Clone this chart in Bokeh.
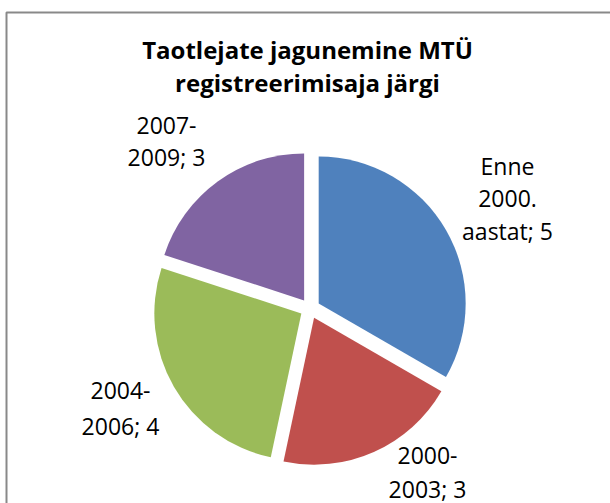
import numpy as np
from bokeh.plotting import figure
from bokeh.models import Range1d
from bokeh.core.properties import value
from bokeh.embed import file_html
from bokeh.resources import INLINE

# ---- data ----
title_lines = ["Taotlejate jagunemine MTÜ", "registreerimisaja järgi"]
categories = ["Enne 2000. aastat", "2000-2003", "2004-2006", "2007-2009"]
category_wrapped = [["Enne", "2000.", "aastat"], ["2000-", "2003"], ["2004-", "2006"], ["2007-", "2009"]]
values = [5, 3, 4, 3]
colors = ["#4F81BD", "#C0504D", "#9BBB59", "#8064A2"]

# ---- layout (page pixels) ----
W, H = 610, 503
FONT = "Open Sans"
# (x center, first line y, line gap)
label_anchor = [(507, 165, 32.5), (427, 455, 33), (120, 390, 35), (166, 125, 31)]

p = figure(width=W, height=H, x_range=Range1d(0, W), y_range=Range1d(0, H),
           output_backend="svg", toolbar_location=None, min_border=0)
p.axis.visible = False
p.grid.visible = False
p.outline_line_color = None
p.background_fill_color = "white"
p.border_fill_color = "white"


def Y(py):
    return H - py


# chart border (right/bottom edges fall outside the picture)
p.line(x=[6, 6, W + 20], y=[Y(H + 20), Y(12), Y(12)], line_color="#898989", line_width=2)

# pie
vals = np.array(values, dtype=float)
fr = vals / vals.sum()
ends = np.cumsum(fr)
starts = ends - fr
a_start = np.pi / 2 - 2 * np.pi * starts
a_end = np.pi / 2 - 2 * np.pi * ends
mid = (a_start + a_end) / 2
cx, cy = 309.5, Y(308)
R, EXPLODE = 147, 10
xs = cx + EXPLODE * np.cos(mid)
ys = cy + EXPLODE * np.sin(mid)
p.wedge(x=xs, y=ys, radius=R, start_angle=a_end, end_angle=a_start,
        direction="anticlock", fill_color=colors, line_color=None)

# data labels
for cat_lines, v, (lx, ly, gap) in zip(category_wrapped, values, label_anchor):
    lines = list(cat_lines)
    lines[-1] = f"{lines[-1]}; {v}"
    p.text(x=[lx] * len(lines), y=[Y(ly + i * gap) for i in range(len(lines))],
           text=lines, text_align="center", text_baseline="alphabetic",
           text_font=value(FONT), text_font_size="23px", text_color="#000000")

# title
p.text(x=[307, 307], y=[Y(49), Y(82)], text=title_lines, text_align="center",
       text_baseline="alphabetic", text_font=value(FONT), text_font_style="bold",
       text_font_size="24px", text_color="#000000")

open("out.html", "w").write(file_html(p, INLINE))
